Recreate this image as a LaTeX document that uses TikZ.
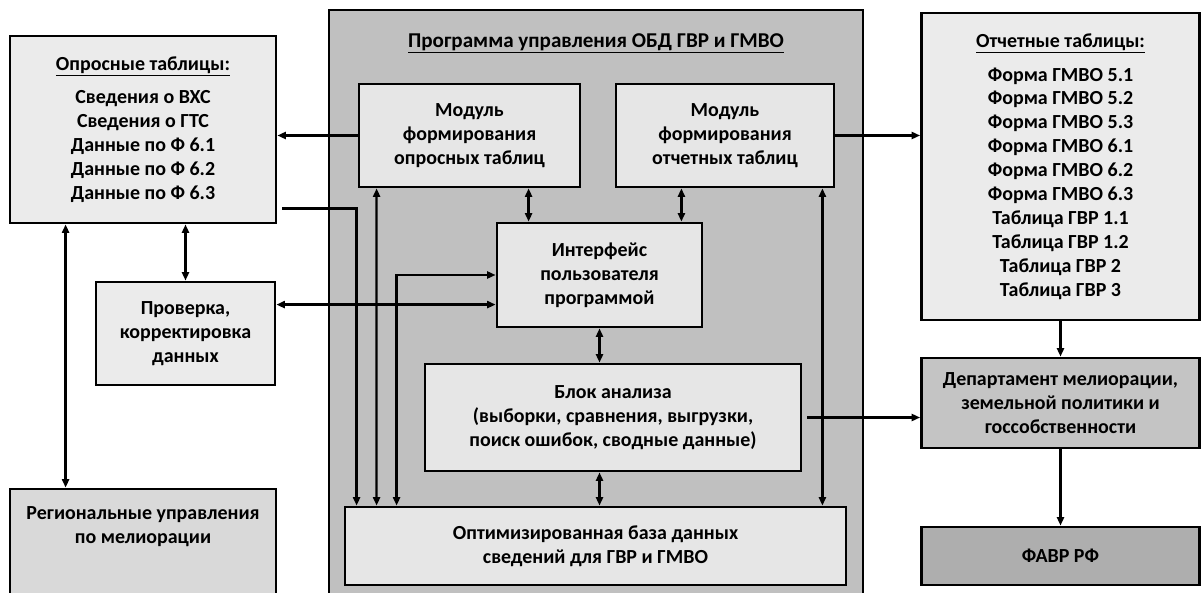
\documentclass[tikz,border=0pt]{standalone}
\usepackage{fontspec}
\setmainfont{Carlito}
\usetikzlibrary{arrows.meta, positioning}
\definecolor{box-border}{HTML}{000000}
\definecolor{table-fill}{HTML}{EBEBEB}
\definecolor{module-fill}{HTML}{E6E6E6}
\definecolor{program-fill}{HTML}{C0C0C0}
\definecolor{region-fill}{HTML}{D9D9D9}
\definecolor{dept-fill}{HTML}{C4C4C4}
\definecolor{favr-fill}{HTML}{AEAEAE}
\tikzset{
  block-node/.style={
    draw=box-border, fill=module-fill, line width=2pt, align=center,
    inner sep=2pt, font=\fontsize{14.2}{17}\selectfont\bfseries
  },
  label-node/.style={align=center, font=\fontsize{14.2}{17}\selectfont\bfseries},
  flow/.style={-{Triangle[length=6pt, width=5pt]}, line width=1.6pt, draw=box-border},
  flow-both/.style={{Triangle[length=6pt, width=5pt]}-{Triangle[length=6pt, width=5pt]}, line width=1.6pt, draw=box-border}
}

\begin{document}
\begin{tikzpicture}
  \useasboundingbox (0, 0) rectangle (30.025, 14.8);
  \clip (0, 0) rectangle (30.025, 14.8);

  \node[block-node, fill=program-fill, minimum width=13.35cm, minimum height=15.75cm] (prog) at (14.9, 6.675) {};
  \node[label-node, font=\fontsize{15}{17}\selectfont\bfseries] (progtitle) at (14.9, 13.72) {\underline{Программа управления ОБД ГВР и ГМВО}};

  \node[block-node, fill=table-fill, minimum width=6.65cm, minimum height=4.675cm] (opros) at (3.575, 11.5625)
    {\underline{Опросные таблицы:}\\[7pt] Сведения о ВХС\\ Сведения о ГТС\\ Данные по Ф 6.1\\ Данные по Ф 6.2\\ Данные по Ф 6.3};
  \node[block-node, fill=table-fill, minimum width=4.475cm, minimum height=2.575cm] (check) at (4.6375, 6.4625)
    {Проверка,\\корректировка\\данных};
  \node[block-node, fill=region-fill, minimum width=6.65cm, minimum height=3.775cm] (region) at (3.575, 0.6875) {};
  \node[label-node] (regiontext) at (3.575, 1.625) {Региональные управления\\по мелиорации};

  \node[block-node, minimum width=5.525cm, minimum height=2.575cm] (modopr) at (11.7375, 11.4125)
    {Модуль\\формирования\\опросных таблиц};
  \node[block-node, minimum width=5.45cm, minimum height=2.575cm] (modotch) at (18.125, 11.4125)
    {Модуль\\формирования\\отчетных таблиц};
  \node[block-node, minimum width=5.125cm, minimum height=2.6cm] (iface) at (14.9875, 7.925)
    {Интерфейс\\пользователя\\программой};
  \node[block-node, minimum width=9.4cm, minimum height=2.675cm] (analysis) at (15.325, 4.3625)
    {Блок анализа\\(выборки, сравнения, выгрузки,\\поиск ошибок, сводные данные)};
  \node[block-node, minimum width=12.525cm, minimum height=1.95cm] (db) at (14.8875, 1.15)
    {Оптимизированная база данных\\сведений для ГВР и ГМВО};

  \node[block-node, fill=table-fill, minimum width=6.95cm, minimum height=7.675cm] (otch) at (26.5125, 10.6375)
    {\underline{Отчетные таблицы:}\\[7pt] Форма ГМВО 5.1\\ Форма ГМВО 5.2\\ Форма ГМВО 5.3\\ Форма ГМВО 6.1\\ Форма ГМВО 6.2\\ Форма ГМВО 6.3\\
     Таблица ГВР 1.1\\ Таблица ГВР 1.2\\ Таблица ГВР 2\\ Таблица ГВР 3};
  \node[block-node, fill=dept-fill, minimum width=6.95cm, minimum height=2.25cm] (dept) at (26.5125, 4.725)
    {Департамент мелиорации,\\земельной политики и\\госсобственности};
  \node[block-node, fill=favr-fill, minimum width=6.95cm, minimum height=1.45cm] (favr) at (26.5125, 0.9) {ФАВР РФ};

  \coordinate (oprosout) at ([xshift=0.12cm, yshift=0.4cm]opros.south east);
  \coordinate (analysisout) at ([xshift=0.12cm]analysis.east);

  \draw[flow] (modopr.west) -- (modopr.west -| opros.east);
  \draw[flow] (modotch.east) -- (modotch.east -| otch.west);
  \draw[flow] (oprosout) -| ([xshift=0.325cm]db.north west);
  \draw[flow-both] ([xshift=0.475cm]modopr.south west) -- ([xshift=0.825cm]db.north west);
  \draw[flow-both] (iface.west) -| ([xshift=1.325cm]db.north west);
  \draw[flow-both] ([yshift=-0.6cm]check.north east) -- ([yshift=-0.6cm]check.north east -| iface.west);
  \draw[flow-both] ([xshift=1.425cm]opros.south west) -- ([xshift=1.425cm]region.north west);
  \draw[flow-both] (check.north) -- (check.north |- opros.south);
  \draw[flow-both] ([xshift=0.825cm]iface.north west) -- ([xshift=0.825cm]iface.north west |- modopr.south);
  \draw[flow-both] ([xshift=-0.55cm]iface.north east) -- ([xshift=-0.55cm]iface.north east |- modotch.south);
  \draw[flow-both] (iface.south) -- (iface.south |- analysis.north);
  \draw[flow-both] (iface.south |- analysis.south) -- (iface.south |- db.north);
  \draw[flow-both] ([xshift=-0.325cm]modotch.south east) -- ([xshift=-0.325cm]modotch.south east |- db.north);
  \draw[flow] (analysisout) -- (analysisout -| dept.west);
  \draw[flow] (otch.south) -- (dept.north);
  \draw[flow] (dept.south) -- (favr.north);
\end{tikzpicture}
\end{document}
